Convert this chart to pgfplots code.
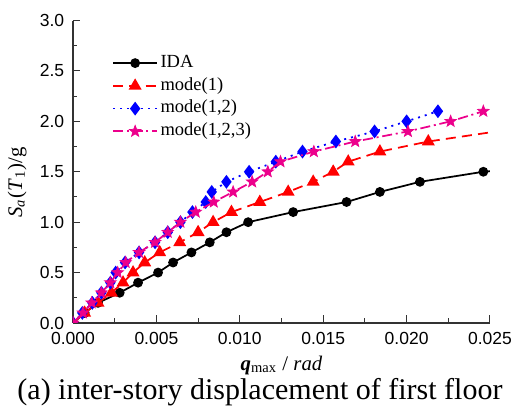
\documentclass[border=0pt]{standalone}
\usepackage{fontspec}
\setmainfont{Liberation Serif}
\setsansfont{Liberation Sans}
\usepackage{pgfplots}
\pgfplotsset{compat=1.18}

% filled five-pointed star for mode(1,2,3)
\pgfdeclareplotmark{fstar}{%
  \pgfpathmoveto{\pgfpointpolar{90}{\pgfplotmarksize}}%
  \pgfpathlineto{\pgfpointpolar{126}{0.42\pgfplotmarksize}}%
  \pgfpathlineto{\pgfpointpolar{162}{\pgfplotmarksize}}%
  \pgfpathlineto{\pgfpointpolar{198}{0.42\pgfplotmarksize}}%
  \pgfpathlineto{\pgfpointpolar{234}{\pgfplotmarksize}}%
  \pgfpathlineto{\pgfpointpolar{270}{0.42\pgfplotmarksize}}%
  \pgfpathlineto{\pgfpointpolar{306}{\pgfplotmarksize}}%
  \pgfpathlineto{\pgfpointpolar{342}{0.42\pgfplotmarksize}}%
  \pgfpathlineto{\pgfpointpolar{18}{\pgfplotmarksize}}%
  \pgfpathlineto{\pgfpointpolar{54}{0.42\pgfplotmarksize}}%
  \pgfpathclose
  \pgfusepathqfillstroke}

\begin{document}
\begin{tikzpicture}
\begin{axis}[
    scale only axis,
    width=166.8pt, height=121pt,
    xmin=0, xmax=0.025, ymin=0, ymax=3,
    axis x line*=bottom, axis y line*=left,
    axis line style={line width=0.5pt, black!80},
    xtick={0,0.005,...,0.025}, ytick={0,0.5,...,3},
    minor tick num=1,
    tick align=inside,
    major tick length=3pt, minor tick length=1.8pt,
    tick style={black!80, line width=0.4pt},
    scaled x ticks=false,
    /pgf/number format/assume math mode=true,
    ticklabel style={font=\sffamily\fontsize{7}{8}\selectfont},
    xticklabel style={/pgf/number format/.cd, fixed, fixed zerofill, precision=3},
    yticklabel style={/pgf/number format/.cd, fixed, fixed zerofill, precision=1},
    xlabel={\textbf{\textit{q}}\textsubscript{max} / \textit{rad}},
    ylabel={\textit{S\textsubscript{a}}(\textit{T}\textsubscript{1})/g},
    label style={font=\fontsize{8.3}{9}\selectfont},
    xlabel style={yshift=2.2pt},
    ylabel style={at={(axis description cs:-0.134,0.465)}, anchor=center, rotate=0},
    clip marker paths=true,
    legend cell align=left,
    legend style={at={(0.075,0.915)}, anchor=north west, draw=none, fill=none,
        font=\fontsize{7.4}{8}\selectfont, row sep=0pt,
        nodes={inner sep=1pt, text height=5.3pt, text depth=1.8pt}},
    legend image code/.code={\draw[mark repeat=2, mark phase=2] plot coordinates {(0pt,0pt) (8.8pt,0pt) (17.6pt,0pt)};},
]
\addplot[black, line width=0.7pt, mark=*, mark size=1.6pt] coordinates {
(0,0) (0.0007,0.1) (0.0015,0.2) (0.0028,0.3) (0.0039,0.4) (0.0051,0.5) (0.0060,0.6)
(0.0071,0.7) (0.0082,0.8) (0.0092,0.9) (0.0105,1.0) (0.0132,1.1) (0.0164,1.2)
(0.0184,1.3) (0.0208,1.4) (0.0246,1.5) (0.0270,1.53)
};
\addlegendentry{IDA}
\addplot[red, line width=0.7pt, dash pattern=on 4pt off 2.5pt, mark=triangle*, mark size=2.3pt, mark options={solid}] coordinates {
(0,0) (0.0007,0.1) (0.0015,0.2) (0.0023,0.3) (0.0030,0.4) (0.0036,0.5) (0.0043,0.6)
(0.0052,0.7) (0.0064,0.8) (0.0075,0.9) (0.0084,1.0) (0.0095,1.1) (0.0112,1.2)
(0.0129,1.3) (0.0144,1.4) (0.0156,1.5) (0.0165,1.6) (0.0184,1.7) (0.0213,1.8) (0.0254,1.9)
};
\addlegendentry{mode(1)}
\addplot[blue, line width=0.7pt, dash pattern=on 0.8pt off 2pt, mark=diamond*, mark size=2.2pt, mark options={solid}] coordinates {
(0,0) (0.00056,0.1) (0.00116,0.2) (0.0017,0.3) (0.00224,0.4) (0.00256,0.5) (0.00312,0.6)
(0.00396,0.7) (0.00492,0.8) (0.00568,0.9) (0.00644,1.0) (0.00716,1.1) (0.00796,1.2)
(0.00832,1.3) (0.0092,1.4) (0.01056,1.5) (0.01216,1.6) (0.01376,1.7) (0.01576,1.8)
(0.01808,1.9) (0.0200,2.0) (0.02188,2.1)
};
\addlegendentry{mode(1,2)}
\addplot[magenta, line width=0.7pt, dash pattern=on 4pt off 1.5pt on 0.8pt off 1.5pt, mark=fstar, mark size=2.4pt, mark options={solid, line width=0.3pt}] coordinates {
(0,0) (0.0006,0.1) (0.00112,0.2) (0.0017,0.3) (0.00224,0.4) (0.00268,0.5) (0.00316,0.6)
(0.00396,0.7) (0.00492,0.8) (0.00568,0.9) (0.00644,1.0) (0.00736,1.1) (0.00844,1.2)
(0.0096,1.3) (0.01074,1.4) (0.01168,1.5) (0.01244,1.6) (0.01444,1.7) (0.01692,1.8)
(0.02008,1.9) (0.02264,2.0) (0.0246,2.1)
};
\addlegendentry{mode(1,2,3)}
\end{axis}
\node[font=\fontsize{12}{14}\selectfont, anchor=base] at (74.8pt,-30.4pt) {(a) inter-story displacement of first floor};
\pgfresetboundingbox
\useasboundingbox (-29.2pt,-34pt) rectangle (176.8pt,129.2pt);
\end{tikzpicture}
\end{document}
